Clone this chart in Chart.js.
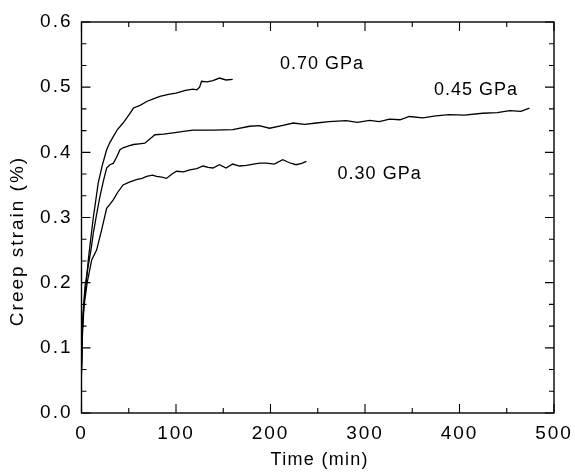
<!DOCTYPE html>
<html>
<head>
<meta charset="utf-8">
<script src="https://cdn.jsdelivr.net/npm/chart.js@4"></script>
<style>
  html, body { margin: 0; padding: 0; background: #fff; }
  #wrap { width: 575px; height: 472px; position: relative; }
</style>
</head>
<body>
<div id="wrap"><canvas id="c" width="575" height="472"></canvas></div>
<script>
// ---- data ----
const t070 = [0, 1, 2.6, 5, 7.2, 10, 12.5, 15, 17.7, 22, 26.6, 30, 33.6, 38, 44, 50, 55, 62, 69, 76, 83, 92, 100, 110, 118, 122, 125, 127, 133, 139, 146, 153, 160];
const s070 = [0.07, 0.13, 0.168, 0.2, 0.235, 0.27, 0.30, 0.325, 0.353, 0.38, 0.404, 0.415, 0.424, 0.435, 0.445, 0.457, 0.468, 0.472, 0.478, 0.482, 0.486, 0.489, 0.491, 0.495, 0.497, 0.496, 0.5, 0.509, 0.508, 0.510, 0.514, 0.511, 0.512];

const t045 = [0, 1, 3.7, 7, 10, 12.5, 16, 19.5, 23, 26.6, 30, 33.6, 37, 40.7, 44, 50, 55, 61, 67, 72, 77.7, 87, 97, 108, 118, 140, 160, 178, 188, 199, 212, 224, 236, 248.5, 262, 280, 292, 305, 315, 326, 337, 347, 361, 375, 389, 405, 424.5, 440, 453, 465, 474];
const s045 = [0.07, 0.14, 0.194, 0.225, 0.25, 0.276, 0.305, 0.332, 0.355, 0.376, 0.381, 0.383, 0.392, 0.404, 0.407, 0.41, 0.412, 0.413, 0.414, 0.42, 0.427, 0.428, 0.43, 0.432, 0.434, 0.434, 0.435, 0.44, 0.441, 0.437, 0.441, 0.445, 0.443, 0.445, 0.447, 0.4486, 0.446, 0.449, 0.447, 0.451, 0.45, 0.455, 0.453, 0.456, 0.458, 0.457, 0.460, 0.461, 0.464, 0.463, 0.468];

const t030 = [0, 1, 2.6, 6, 10.8, 16, 21.3, 26.6, 30, 33.6, 38, 44, 50, 58, 64, 69, 75, 79.5, 85, 90, 95, 100.6, 108, 114.6, 122, 128.7, 134, 139, 146, 153, 160, 167, 174.5, 182, 188.6, 195.7, 204, 213, 220, 227, 233, 238];
const s030 = [0.06, 0.12, 0.163, 0.2, 0.235, 0.250, 0.281, 0.314, 0.32, 0.327, 0.338, 0.350, 0.354, 0.358, 0.36, 0.363, 0.365, 0.363, 0.362, 0.360, 0.366, 0.371, 0.37, 0.373, 0.375, 0.379, 0.377, 0.376, 0.381, 0.376, 0.382, 0.379, 0.380, 0.382, 0.3835, 0.3835, 0.382, 0.3886, 0.384, 0.381, 0.383, 0.386];

const seriesNames = ['0.70 GPa', '0.45 GPa', '0.30 GPa'];
const labelX = [210, 373, 271];
const labelY = [0.535, 0.495, 0.367];

const xTickValues = [0, 100, 200, 300, 400, 500];
const xMinorValues = [50, 150, 250, 350, 450];
const yTickValues = [0, 0.1, 0.2, 0.3, 0.4, 0.5, 0.6];
const xTitle = 'Time (min)';
const yTitle = 'Creep strain (%)';

// ---- build ----
const FONT = '"Liberation Sans", Arial, Helvetica, sans-serif';
function pts(ts, ss) { return ts.map((t, i) => ({ x: t, y: ss[i] })); }

const framePlugin = {
  id: 'frame',
  beforeDraw(chart) {
    // loose tracking of the tick labels, as in the scanned reference
    chart.ctx.letterSpacing = '2px';
  },
  afterDraw(chart) {
    const ctx = chart.ctx, a = chart.chartArea;
    const xs = chart.scales.x, ys = chart.scales.y;
    ctx.save();
    ctx.strokeStyle = '#000';
    ctx.lineWidth = 1.4;
    ctx.strokeRect(a.left, a.top, a.right - a.left, a.bottom - a.top);
    ctx.lineWidth = 1.1;
    ctx.beginPath();
    const xt = (v, len) => {
      const p = xs.getPixelForValue(v);
      ctx.moveTo(p, a.bottom); ctx.lineTo(p, a.bottom - len);
      ctx.moveTo(p, a.top); ctx.lineTo(p, a.top + len);
    };
    xTickValues.forEach(v => xt(v, 9));
    xMinorValues.forEach(v => xt(v, 5));
    const yt = (v, len) => {
      const p = ys.getPixelForValue(v);
      ctx.moveTo(a.left, p); ctx.lineTo(a.left + len, p);
      ctx.moveTo(a.right, p); ctx.lineTo(a.right - len, p);
    };
    yTickValues.forEach(v => yt(v, 9));
    for (let i = 0; i < yTickValues.length - 1; i++) {
      const lo = yTickValues[i], hi = yTickValues[i + 1];
      yt(lo + (hi - lo) / 3, 5);
      yt(lo + 2 * (hi - lo) / 3, 5);
    }
    ctx.stroke();

    ctx.fillStyle = '#000';

    // series labels
    ctx.letterSpacing = '1px';
    ctx.font = '18px ' + FONT;
    ctx.textAlign = 'left';
    ctx.textBaseline = 'middle';
    seriesNames.forEach((n, i) => {
      ctx.fillText(n, xs.getPixelForValue(labelX[i]), ys.getPixelForValue(labelY[i]));
    });

    // x title
    ctx.letterSpacing = '1.3px';
    ctx.font = '18px ' + FONT;
    ctx.textAlign = 'center';
    ctx.textBaseline = 'alphabetic';
    ctx.fillText(xTitle, (a.left + a.right) / 2 + 2, 465);

    // y title (placed lower than center, as in the reference)
    ctx.save();
    ctx.translate(18, 241);
    ctx.rotate(-Math.PI / 2);
    ctx.letterSpacing = '2px';
    ctx.textAlign = 'center';
    ctx.textBaseline = 'middle';
    ctx.font = '19px ' + FONT;
    ctx.fillText(yTitle, 0, 0);
    ctx.restore();
    ctx.restore();
  }
};

const lineStyle = { borderColor: '#000', borderWidth: 1.3, pointRadius: 0, fill: false, tension: 0 };

new Chart(document.getElementById('c'), {
  type: 'line',
  data: {
    datasets: [
      Object.assign({ label: seriesNames[0], data: pts(t070, s070) }, lineStyle),
      Object.assign({ label: seriesNames[1], data: pts(t045, s045) }, lineStyle),
      Object.assign({ label: seriesNames[2], data: pts(t030, s030) }, lineStyle)
    ]
  },
  options: {
    responsive: false,
    animation: false,
    devicePixelRatio: 1,
    layout: { padding: { top: 22, right: 21, left: 0, bottom: 0 } },
    plugins: { legend: { display: false }, tooltip: { enabled: false } },
    scales: {
      x: {
        type: 'linear', min: 0, max: 500,
        afterBuildTicks: s => { s.ticks = xTickValues.map(v => ({ value: v })); },
        afterFit: s => { s.height = 59; s.paddingLeft = 0; s.paddingRight = 0; },
        grid: { display: false, drawTicks: false },
        border: { display: false },
        ticks: { color: '#000', font: { family: FONT, size: 19 }, padding: 9, maxRotation: 0 },
        title: { display: false }
      },
      y: {
        type: 'linear', min: 0, max: 0.6,
        afterBuildTicks: s => { s.ticks = yTickValues.map(v => ({ value: v })); },
        afterFit: s => { s.width = 81.5; s.paddingTop = 0; s.paddingBottom = 0; },
        grid: { display: false, drawTicks: false },
        border: { display: false },
        ticks: { color: '#000', font: { family: FONT, size: 19 }, padding: 9, callback: v => v.toFixed(1) }
      }
    }
  },
  plugins: [framePlugin]
});
</script>
</body>
</html>
